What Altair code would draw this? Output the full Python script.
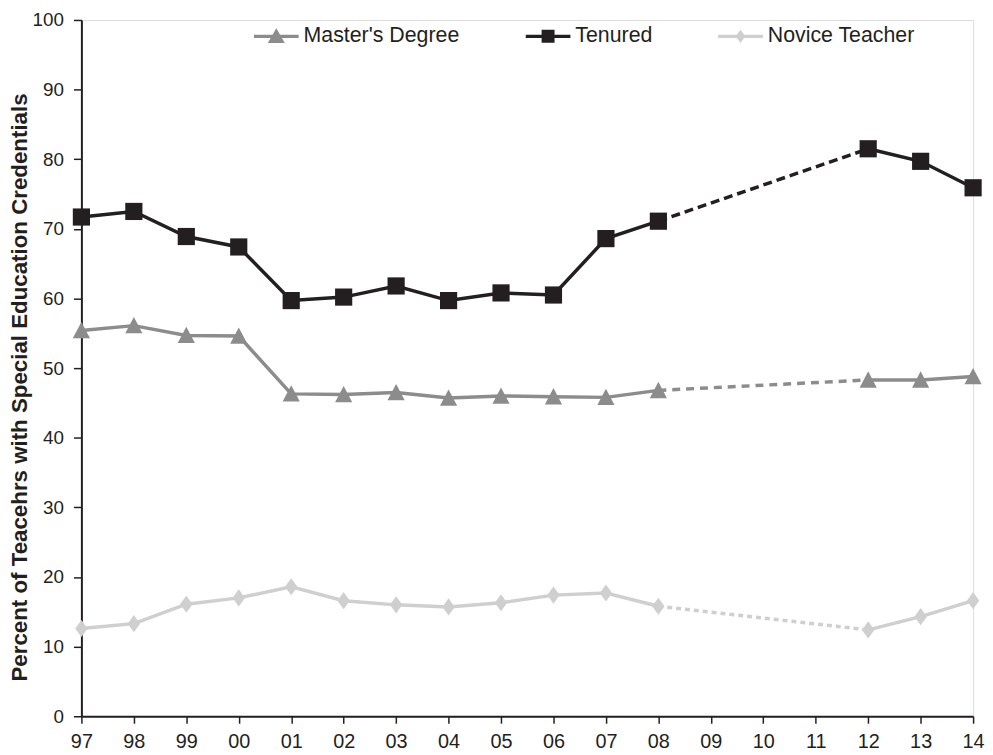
import altair as alt
import pandas as pd

# ---- data ----
all_years = ["97", "98", "99", "00", "01", "02", "03", "04", "05", "06",
             "07", "08", "09", "10", "11", "12", "13", "14"]
years = ["97", "98", "99", "00", "01", "02", "03", "04", "05", "06",
         "07", "08", "12", "13", "14"]
masters = [55.4, 56.1, 54.7, 54.6, 46.3, 46.2, 46.5, 45.7, 46.0, 45.9,
           45.8, 46.8, 48.3, 48.3, 48.8]
tenured = [71.7, 72.5, 68.9, 67.4, 59.7, 60.2, 61.8, 59.7, 60.8, 60.5,
           68.6, 71.1, 81.5, 79.7, 75.9]
novice = [12.6, 13.3, 16.1, 17.0, 18.6, 16.6, 16.0, 15.7, 16.3, 17.4,
          17.7, 15.8, 12.4, 14.3, 16.6]
series_names = ["Master's Degree", "Tenured", "Novice Teacher"]
series_values = [masters, tenured, novice]
gap_start, gap_end = "08", "12"

colors = ["#8c8c8c", "#231f20", "#cfcfcf"]
marker_paths = [
    "M0,-1L1,0.9L-1,0.9Z",
    "M-1,-1H1V1H-1Z",
    "M0,-1L0.72,0L0,1L-0.72,0Z",
]
legend_paths = [
    "M-1,-0.075H1V0.075H-1Z M0,-0.36L0.38,0.3L-0.38,0.3Z",
    "M-1,-0.075H1V0.075H-1Z M-0.29,-0.29H0.29V0.29H-0.29Z",
    "M-1,-0.075H1V0.075H-1Z M0,-0.3L0.22,0L0,0.3L-0.22,0Z",
]
dashes = [[8, 6], [9, 5], [5, 4]]

rows = []
for name, vals in zip(series_names, series_values):
    for y, v in zip(years, vals):
        seg = "a" if all_years.index(y) <= all_years.index(gap_start) else "b"
        rows.append({"series": name, "year": y, "value": v, "seg": seg})
df = pd.DataFrame(rows)
df_gap = df[df["year"].isin([gap_start, gap_end])]

FONT = "Liberation Sans"
x_enc = alt.X("year:O",
              scale=alt.Scale(type="point", domain=all_years, padding=0),
              axis=alt.Axis(title=None, labelAngle=0, labelFontSize=20,
                            labelFont=FONT, labelColor="#231f20",
                            tickSize=7, tickWidth=1.5, tickColor="#231f20",
                            domainColor="#231f20", domainWidth=2,
                            labelPadding=8))
y_enc = alt.Y("value:Q",
              scale=alt.Scale(domain=[0, 100], nice=False),
              axis=alt.Axis(title="Percent of Teacehrs with Special Education Credentials",
                            values=list(range(0, 101, 10)), grid=False,
                            labelFontSize=19, labelFont=FONT, labelColor="#231f20",
                            labelPadding=10, tickSize=8, tickWidth=1.5,
                            tickColor="#231f20", domainColor="#231f20",
                            domainWidth=2, titleFont=FONT, titleFontSize=22.5,
                            titleFontWeight="bold", titleColor="#231f20",
                            titleX=-62, titleY=370, titleAlign="center",
                            titleBaseline="middle", titleAngle=270))

color_scale = alt.Scale(domain=series_names, range=colors)

solid = alt.Chart(df).mark_line(strokeWidth=3.5).encode(
    x=x_enc, y=y_enc,
    color=alt.Color("series:N", scale=color_scale, legend=None),
    detail="seg:N",
)

dashed = alt.Chart(df_gap).mark_line(strokeWidth=3.5).encode(
    x=x_enc, y=y_enc,
    color=alt.Color("series:N", scale=color_scale, legend=None),
    strokeDash=alt.StrokeDash("series:N",
                              scale=alt.Scale(domain=series_names, range=dashes),
                              legend=None),
)

points = alt.Chart(df).mark_point(filled=True, opacity=1, size=300).encode(
    x=x_enc, y=y_enc,
    color=alt.Color("series:N", scale=color_scale, legend=None),
    shape=alt.Shape("series:N",
                    scale=alt.Scale(domain=series_names, range=marker_paths),
                    legend=None),
)

legend_layer = alt.Chart(df).mark_point(filled=True, size=0, opacity=1).encode(
    x=x_enc, y=y_enc,
    color=alt.Color("series:N", scale=color_scale,
                    legend=alt.Legend(title=None, orient="none", legendX=174,
                                      legendY=-6, direction="horizontal",
                                      symbolSize=2025, symbolOpacity=1,
                                      symbolStrokeWidth=0,
                                      labelFontSize=21.5, labelFont=FONT,
                                      labelColor="#231f20", labelOffset=5,
                                      columnPadding=66, padding=0)),
    shape=alt.Shape("series:N",
                    scale=alt.Scale(domain=series_names, range=legend_paths)),
)

chart = alt.layer(solid, dashed, points, legend_layer).resolve_scale(
    color="independent", shape="independent", strokeDash="independent"
).properties(
    width=899, height=702,
    autosize="none",
    padding={"left": 74, "top": 9, "right": 12, "bottom": 38},
).configure_view(stroke=None).configure(font=FONT)

chart.save("out.html", embed_options={"renderer": "svg", "actions": False})
